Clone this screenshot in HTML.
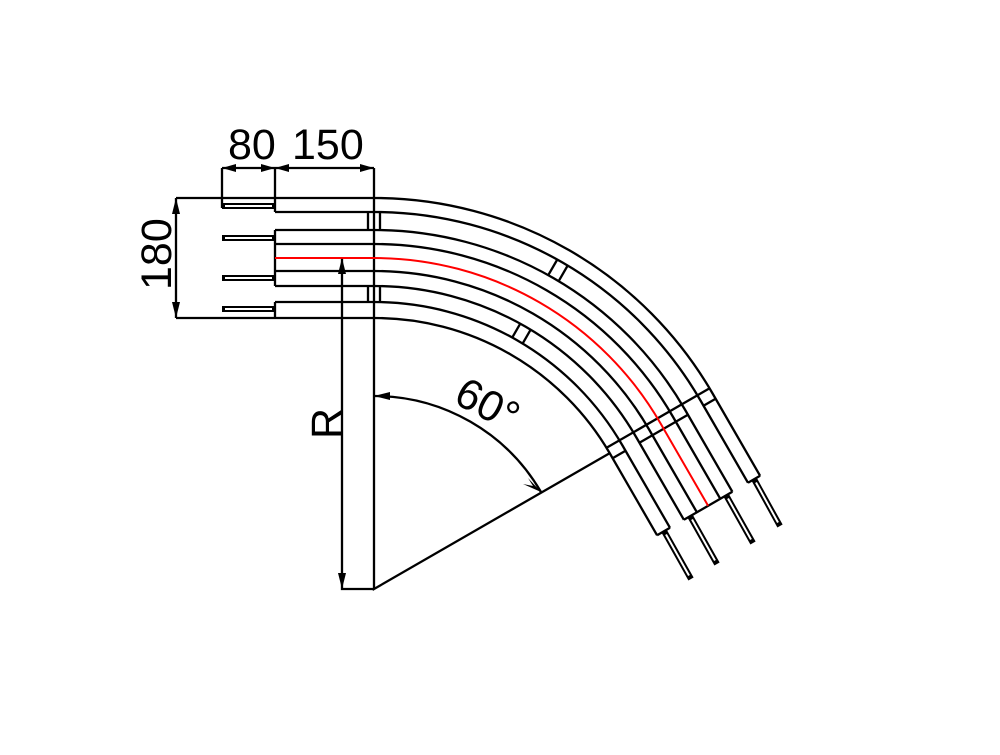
<!DOCTYPE html>
<html><head><style>body{margin:0;background:#fff}</style></head><body>
<svg width="1000" height="750" viewBox="0 0 1000 750" xmlns="http://www.w3.org/2000/svg">
<rect width="1000" height="750" fill="#fff"/>
<g fill="none" stroke="#000" stroke-width="2.3">
<path d="M176,198 H374 A391,391 0 0 1 712.6,393.5 L760.1,475.8"/>
<path d="M275,212 H374 A377,377 0 0 1 700.5,400.5 L748,482.8"/>
<path d="M275,230 H374 A359,359 0 0 1 684.9,409.5 L732.4,491.8"/>
<path d="M275,244 H374 A345,345 0 0 1 672.8,416.5 L720.3,498.8"/>
<path d="M275,271 H374 A318,318 0 0 1 649.4,430 L696.9,512.3"/>
<path d="M275,286 H374 A303,303 0 0 1 636.4,437.5 L683.9,519.8"/>
<path d="M275,302 H374 A287,287 0 0 1 622.5,445.5 L670,527.8"/>
<path d="M176,318 H374 A272,272 0 0 1 609.6,453 L657.1,535.3"/>
<path d="M275,198 V212 M275,230 V286 M275,302 V318"/>
<path d="M760.1,475.8 L748,482.8 M732.4,491.8 L683.9,519.8 M670,527.8 L657.1,535.3"/>
<path d="M368,212 V230 M380,212 V230 M368,286 V302 M380,286 V302"/>
<g transform="translate(374,589) rotate(30)"><path d="M-6,-377 V-359 M6,-377 V-359 M-6,-303 V-287 M6,-303 V-287"/></g>
<g transform="translate(374,589) rotate(60)"><path d="M-6,-391 V-272 M6,-391 V-377 M6,-359 V-303 M6,-287 V-272"/></g>
<path d="M374,198 V589 L610,453"/>
<path d="M222,168 V208 M275,168 V198 M374,168 V198 M222,168 H374"/>
<path d="M176,198 V318"/>
<path d="M342,258 V589 H374"/>
<path d="M374,396 A193,193 0 0 1 541,492"/>
</g>
<path d="M275,258 H374 A331,331 0 0 1 660.6,423.5 L708.1,505.8" fill="none" stroke="#f00" stroke-width="2"/>
<g stroke-linecap="butt">
<g stroke="#000" stroke-width="6">
<path d="M222,206 H275 M222,238 H275 M222,278 H275 M222,309 H275"/>
<path d="M754,479 L780,526 M726,495 L753,543 M690,516 L717,564 M664,531 L691,579"/>
</g>
<g stroke="#fff" stroke-width="2">
<path d="M225,206 H272 M225,238 H272 M225,278 H272 M225,309 H272"/>
<path d="M756,482.5 L778,522.5 M728,498.5 L751,539.5 M692,519.5 L715,560.5 M666,534.5 L689,575.5"/>
</g>
</g>
<g fill="#000">
<polygon points="222,168 236,164 236,172"/>
<polygon points="275,168 261,164 261,172"/>
<polygon points="275,168 289,164 289,172"/>
<polygon points="374,168 360,164 360,172"/>
<polygon points="176,198 172,214 180,214"/>
<polygon points="176,318 172,302 180,302"/>
<polygon points="342,258 338,274 346,274"/>
<polygon points="342,589 338,573 346,573"/>
<polygon points="374,396 390,392 390,400"/>
<polygon points="541,492 528,478 533,486 523,484"/>
</g>
<g font-family="Liberation Sans, sans-serif" font-size="43" fill="#000">
<text x="228" y="159">80</text>
<text x="292" y="159">150</text>
<text transform="translate(171,290) rotate(-90)">180</text>
<text transform="translate(341,439) rotate(-90)">R</text>
<text transform="translate(452,402) rotate(28)">60°</text>
</g>
</svg>
</body></html>
